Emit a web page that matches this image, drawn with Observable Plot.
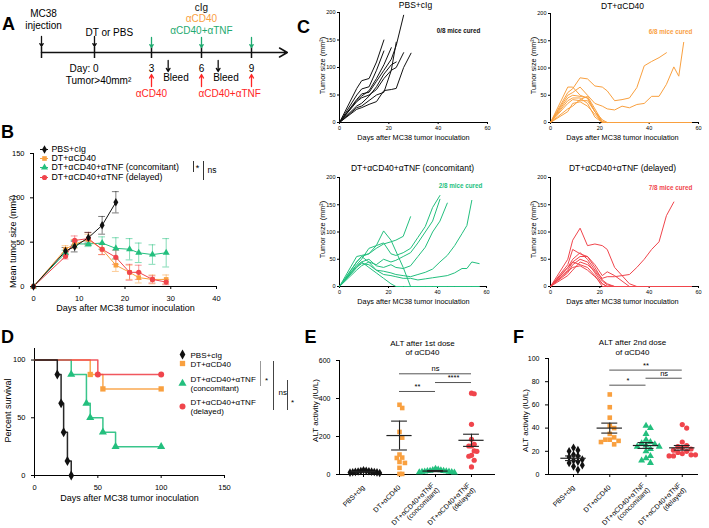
<!DOCTYPE html>
<html><head><meta charset="utf-8">
<script src="https://cdn.jsdelivr.net/npm/d3@7"></script>
<script src="https://cdn.jsdelivr.net/npm/@observablehq/plot@0.6"></script>
<style>
body{margin:0;background:#fff;}
#wrap{position:relative;width:709px;height:528px;overflow:hidden;background:#fff;}
#wrap svg{position:absolute;left:0;top:0;}
</style></head><body><div id="wrap"></div>
<script>
// ---------------- DATA ----------------
const groups = ["PBS+cIg","DT+αCD40","DT+αCD40+αTNF (concomitant)","DT+αCD40+αTNF (delayed)"];
const colors = ["#111111","#F9A03F","#23BF7E","#F0454C"];
const symbols = ["diamond","square","triangle","circle"];

// Panel A timeline
const aEvents = [{day:-3, text:"MC38\ninjection"}, {day:0, text:"DT or PBS"}];
const aDoseDays = [3,6,9];
const aBleedDays = [4,7];
const aTopText = ["cIg","αCD40","αCD40+αTNF"];
const aTopColors = ["#111111","#F9A03F","#1FAA70"];
const aBottomText = [{day:3, text:"αCD40"},{day:6, text:"αCD40+αTNF"}];

// Panel B mean tumor size
const bDays = [0,7,9,12,15,18,21,23,26,29];
const bMeanPBS  = [0,40,45,55,69,95];
const bSemPBS   = [0,4,6,6,10,12];
const bMeanCD40 = [0,42,48,53,42,24,16,10,8,8];
const bSemCD40  = [0,4,5,6,6,7,8,6,5,5];
const bMeanConc = [0,38,48,48,49,43,42,38,36,38];
const bSemConc  = [0,3,4,3,7,12,12,11,11,16];
const bMeanDel  = [0,34,52,54,42,33,16,16,8,5];
const bSemDel   = [0,3,5,7,6,8,9,8,4,3];

// Panel C individual mice
const cDays = [0,7,9,12,15,18,21,23,26,29,32,35,38,41,44,47,50,52,54,57];
const cPBS = [
  [0,42,52,55,75,95,115,140,195],
  [0,62,76,80,110,150],
  [0,50,61,65,95,130],
  [0,40,48,58,80,105,136],
  [0,38,45,50,60,80,95,146],
  [0,30,35,48,65,88,105,110],
  [0,27,30,40,50,55,95,100,127],
  [0,24,27,33,38,58,60,62,100,126]
];
const cCD40 = [
  [0,55,62,82,80,67,65,58,40,42,45,64,104,112,119,128],
  [0,50,55,65,50,35,30,25,23,30,27,33,35,48,48,70,102,85,147],
  [0,65,65,50,45,20,0,0,0,0,0,0,0,0,0,0,0,0,0,0],
  [0,45,50,48,45,20,0,0,0,0,0,0,0,0,0,0,0,0,0,0],
  [0,40,45,45,35,10,0,0,0,0,0,0,0,0,0,0,0,0,0,0],
  [0,35,42,40,40,20,5,0,0,0,0,0,0,0,0,0,0,0,0,0],
  [0,25,30,42,48,25,2,0,0,0,0,0,0,0,0,0,0,0,0,0],
  [0,20,35,38,30,15,0,0,0,0,0,0,0,0,0,0,0,0,0,0]
];
const cConc = [
  [0,55,57,60,70,78,82,85,92,128],
  [0,40,50,70,75,80,60,57,62,70,90,110,145,167],
  [0,45,55,45,40,50,45,48,55,62,80,100,120,160],
  [0,35,45,50,38,35,40,35,33,38,55,72,100,120,153],
  [0,30,38,45,30,28,25,22,20,18,22,26,32,45,57,75,97,112,158],
  [0,45,55,60,75,102,85,65,35,0,0,0,0,0,0,0,0,0,0,0],
  [0,38,45,35,25,15,5,0,0,0,0,0,0,0,0,0,0,0,0,0],
  [0,35,42,40,30,22,20,18,15,15,12,14,16,18,20,25,33,33,45,42]
];
const cDel = [
  [0,50,85,107,75,78,75,68,35,20,5,0,0,0,0,0,0,0,0,0],
  [0,40,68,60,55,40,20,27,20,10,0,0,0,0,0,0,0,0,0,0],
  [0,35,50,62,50,30,15,18,18,20,22,35,50,68,82,130,155],
  [0,30,45,55,55,35,12,5,0,0,0,0,0,0,0,0,0,0,0,0],
  [0,25,40,50,45,25,5,0,0,0,0,0,0,0,0,0,0,0,0,0],
  [0,35,45,40,35,20,0,0,0,0,0,0,0,0,0,0,0,0,0,0],
  [0,28,35,38,30,18,5,0,0,0,0,0,0,0,0,0,0,0,0,0],
  [0,20,30,45,40,28,10,3,0,0,0,0,0,0,0,0,0,0,0,0]
];
const cCured = ["0/8 mice cured","6/8 mice cured","2/8 mice cured","7/8 mice cured"];

// Panel D survival
const dTimes = [[0,18,21,23,26,29],[0,44,54,100],[0,29,41,44,54,64,100],[0,50,100]];
const dSurv  = [[100,87.5,62.5,37.5,12.5,0],[100,87.5,75,75],[100,87.5,62.5,50,37.5,25,25],[100,87.5,87.5]];

// Panel E ALT after 1st dose
const ePBS  = [22,20,18,17,16,15,14,13,12,11,10,8];
const eCD40 = [367,350,224,194,105,89,87,66,61,35,3,3];
const eConc = [30,26,24,22,20,19,18,17,16,15,14,13,12,10];
const eDel  = [428,425,264,185,159,150,150,124,122,101,96,75,40];
const eMean = [15,205,18,180];
const eSem  = [2,76,3,32];
const eSig  = [{from:1,to:3,label:"ns",level:530},{from:2,to:3,label:"****",level:484},{from:1,to:2,label:"**",level:437}];

// Panel F ALT after 2nd dose
const fPBS  = [23,21,20,17,16,15,13,12,11,10,8,7,4];
const fCD40 = [69,58,49,42,40,35,32,30,30,29,28,26];
const fConc = [42,40,35,30,28,27,26,25,24,24,22,20,16,14,12,10];
const fDel  = [43,40,28,25,24,23,22,21,20,19,18,17,17,16,16];
const fMean = [14,40,25,23];
const fSem  = [2,4.3,2.5,2];
const fSig  = [{from:1,to:3,label:"**",level:90},{from:2,to:3,label:"ns",level:83},{from:1,to:2,label:"*",level:77}];

// ---------------- DRAWING ----------------
const W = 709, H = 528;
const FONT = '"Liberation Sans", Arial, Helvetica, sans-serif';
const wrap = document.getElementById("wrap");
const add = p => wrap.appendChild(p);
const frame = (l, r, t, b) => ({width: W, height: H, marginLeft: l, marginRight: W - r, marginTop: t, marginBottom: H - b});
const base = fs => ({style: {fontFamily: FONT, fontSize: fs + "px", background: "transparent", overflow: "visible"}});
const wrapName = s => s.replace(" (", "\n(");

// Panel A (piecewise day scale of the schematic)
const aX = d3.scaleLinear().domain([-3, 0, 3, 6, 9]).range([41, 94, 151, 201, 251]);
const redA = "#FF2626", greenA = "#1FAA70";
add(Plot.plot({
  width: W, height: H, margin: 0, ...base(10),
  x: {type: "identity", axis: null},
  y: {type: "identity", axis: null},
  marks: [
    Plot.arrow([{from: -3, to: 11.15}], {x1: d => aX(d.from), x2: d => aX(d.to), y1: 52, y2: 52, stroke: "#111", strokeWidth: 1.5, headLength: 9}),
    Plot.ruleX([...aEvents.map(d => d.day), ...aDoseDays], {x: d => aX(d), y1: 47, y2: 58, stroke: "#111", strokeWidth: 1.5}),
    Plot.arrow(aEvents, {x: d => aX(d.day), y1: 36, y2: 46, stroke: "#111", strokeWidth: 1.3, headLength: 5}),
    Plot.arrow(aDoseDays, {x: d => aX(d), y1: 37, y2: 47, stroke: greenA, strokeWidth: 1.3, headLength: 5}),
    Plot.arrow(aDoseDays, {x: d => aX(d), y1: 86, y2: 74, stroke: redA, strokeWidth: 1.3, headLength: 5}),
    Plot.arrow(aBleedDays, {x: d => aX(d), y1: 60, y2: 71, stroke: "#111", strokeWidth: 1.3, headLength: 5}),
    Plot.text(aEvents.filter(d => d.day < 0), {x: d => aX(d.day), y: 19, text: "text", dx: 2, lineHeight: 1.2}),
    Plot.text(aEvents.filter(d => d.day >= 0), {x: d => aX(d.day), y: 32, text: "text", textAnchor: "start", dx: -9}),
    Plot.text(aDoseDays, {x: d => aX(d), y: 68, text: d => String(d)}),
    Plot.text([0], {x: d => aX(d), y: 68, text: d => "Day: " + d, textAnchor: "end", dx: 4}),
    Plot.text([40], {x: () => aX(0), y: 80, text: d => "Tumor>" + d + "mm²", dx: 4}),
    Plot.text(aBleedDays, {x: d => aX(d), y: 77, text: () => "Bleed", textAnchor: "start", dx: -5}),
    Plot.text(aTopText, {x: () => aX(6), y: (d, i) => 7 + i * 11.5, text: d => d, fill: (d, i) => aTopColors[i]}),
    Plot.text(aBottomText.slice(0, 1), {x: d => aX(d.day), y: 93, text: "text", fill: redA}),
    Plot.text(aBottomText.slice(1), {x: d => aX(d.day), y: 93, text: "text", fill: redA, textAnchor: "start", dx: -3})
  ]
}));

// Panel B
const bMeans = [bMeanPBS, bMeanCD40, bMeanConc, bMeanDel];
const bSems = [bSemPBS, bSemCD40, bSemConc, bSemDel];
const bRows = [];
[2, 1, 3, 0].forEach(g => bMeans[g].forEach((m, i) => bRows.push({g, day: bDays[i], mean: m, sem: bSems[g][i]})));
const bErr = bRows.filter(d => d.sem > 0);
add(Plot.plot({
  ...frame(33, 216, 153, 286), ...base(7.5),
  x: {domain: [0, 40], ticks: [0, 10, 20, 30, 40], tickSize: 3, line: true, label: null},
  y: {domain: [0, 150], ticks: [0, 50, 100, 150], tickSize: 3, line: true, label: null},
  marks: [
    Plot.ruleX(bErr, {x: "day", y1: d => d.mean - d.sem, y2: d => d.mean + d.sem, stroke: d => colors[d.g], strokeOpacity: 0.55}),
    Plot.ruleY(bErr, {y: d => d.mean + d.sem, x1: d => d.day - 0.75, x2: d => d.day + 0.75, stroke: d => colors[d.g], strokeOpacity: 0.55}),
    Plot.ruleY(bErr, {y: d => d.mean - d.sem, x1: d => d.day - 0.75, x2: d => d.day + 0.75, stroke: d => colors[d.g], strokeOpacity: 0.55}),
    Plot.line(bRows, {x: "day", y: "mean", z: "g", stroke: d => colors[d.g], strokeWidth: 1}),
    Plot.dot(bRows, {x: "day", y: "mean", symbol: d => symbols[d.g], fill: d => colors[d.g], r: 2.6})
  ]
}));

// Panel C
const cGroups = [cPBS, cCD40, cConc, cDel];
const cFrames = [[339, 487, 12, 122], [550, 698, 13, 122], [339, 486, 177, 286], [550, 698, 177, 286]];
cGroups.forEach((mice, g) => {
  const rows = [];
  mice.forEach((vals, m) => vals.forEach((v, i) => rows.push({m, day: cDays[i], v})));
  add(Plot.plot({
    ...frame(...cFrames[g]), ...base(5.5),
    x: {domain: [0, 60], ticks: [0, 20, 40, 60], tickSize: 2, tickPadding: 2, line: true, label: null},
    y: {domain: [0, 200], ticks: [0, 50, 100, 150, 200], tickSize: 2, tickPadding: 2, line: true, label: null},
    marks: [Plot.line(rows, {x: "day", y: "v", z: "m", stroke: colors[g], strokeWidth: 1})]
  }));
});

// Panel D
const dRows = [];
[1, 2, 3, 0].forEach(g => dTimes[g].forEach((t, i) => dRows.push({g, t, s: dSurv[g][i]})));
add(Plot.plot({
  ...frame(34, 224, 348, 475), ...base(7.5),
  x: {domain: [0, 150], ticks: [0, 50, 100, 150], tickSize: 3, line: true, label: null},
  y: {domain: [0, 110], ticks: [0, 50, 100], tickSize: 3, line: true, label: null},
  marks: [
    Plot.line(dRows, {x: "t", y: "s", z: "g", stroke: d => colors[d.g], strokeWidth: 1.5, curve: "step-after", strokeOpacity: 0.9}),
    Plot.dot(dRows.filter(d => d.t > 0), {x: "t", y: "s", symbol: d => symbols[d.g], fill: d => colors[d.g], r: 3})
  ]
}));

// Panels E & F: scatter with a simple beeswarm layout
function swarm(values, yppu, xppu, dX, dY) {
  const placed = [];
  return values.map(v => {
    const py = v * yppu;
    for (let k = 0; k < 80; k++) {
      const off = (k % 2 ? 1 : -1) * Math.ceil(k / 2) * dX;
      if (placed.every(p => ((p[0] - off) / dX) ** 2 + ((p[1] - py) / dY) ** 2 >= 0.95)) { placed.push([off, py]); return off / xppu; }
    }
    return 0;
  });
}
function scatterPanel(fr, xdom, ydom, yticks, sets, means, sems, sig, dX, dY) {
  const yppu = (fr[3] - fr[2]) / (ydom[1] - ydom[0]);
  const xppu = (fr[1] - fr[0]) / (xdom[1] - xdom[0]);
  const pts = [];
  sets.forEach((vals, g) => {
    const offs = swarm(vals, yppu, xppu, dX, dY);
    vals.forEach((v, i) => pts.push({g, v, off: offs[i]}));
  });
  const stats = means.map((m, g) => ({g, mean: m, sem: sems[g]}));
  add(Plot.plot({
    ...frame(...fr), ...base(7),
    x: {domain: xdom, ticks: [0, 1, 2, 3], tickFormat: i => wrapName(groups[i]), tickRotate: -45, tickSize: 3, line: true, label: null},
    y: {domain: ydom, ticks: yticks, tickSize: 3, line: true, label: null},
    marks: [
      Plot.dot(pts, {x: d => d.g + d.off, y: "v", symbol: d => symbols[d.g], fill: d => colors[d.g], r: 2.6}),
      Plot.ruleY(stats, {y: "mean", x1: d => d.g - 0.35, x2: d => d.g + 0.35, stroke: "#222", strokeWidth: 1.2}),
      Plot.ruleX(stats, {x: "g", y1: d => d.mean - d.sem, y2: d => d.mean + d.sem, stroke: "#222", strokeWidth: 1.1}),
      Plot.ruleY(stats, {y: d => d.mean + d.sem, x1: d => d.g - 0.22, x2: d => d.g + 0.22, stroke: "#222", strokeWidth: 1.1}),
      Plot.ruleY(stats, {y: d => d.mean - d.sem, x1: d => d.g - 0.22, x2: d => d.g + 0.22, stroke: "#222", strokeWidth: 1.1}),
      Plot.ruleY(sig, {y: "level", x1: "from", x2: "to", stroke: "#555", strokeWidth: 1}),
      Plot.text(sig, {x: d => (d.from + d.to) / 2, y: "level", text: "label", dy: -5, fontSize: 7.5})
    ]
  }));
}
scatterPanel([339, 494, 360, 474], [-0.667, 3.639], [0, 600], [0, 200, 400, 600],
  [ePBS, eCD40, eConc, eDel], eMean, eSem, eSig, 2.7, 6);
scatterPanel([548, 697, 358, 474], [-0.69, 3.42], [0, 100], [0, 20, 40, 60, 80, 100],
  [fPBS, fCD40, fConc, fDel], fMean, fSem, fSig, 4.4, 5);

// Overlay annotations (layout in pixels)
const txt = (items, opts) => Plot.text(items, {x: d => d[0], y: d => d[1], text: d => d[2], ...opts});
const xLab = "Days after MC38 tumor inoculation";
const cLab = "Tumor size (mm²)";
const bLegY = [149, 158, 167, 177];
const dLegY = [354, 363, 383, 406];
add(Plot.plot({
  width: W, height: H, margin: 0, ...base(9),
  x: {type: "identity", axis: null},
  y: {type: "identity", axis: null},
  marks: [
    txt([[8, 24, "A"], [7, 132, "B"], [303, 27, "C"], [7, 337, "D"], [310, 337, "E"], [518, 337, "F"]], {fontSize: 18, fontWeight: "bold"}),
    txt([[125, 308, xLab], [129, 498, xLab]], {fontSize: 9}),
    txt([[13, 241, "Mean tumor size (mm²)"], [8, 410, "Percent survival"]], {fontSize: 9, rotate: -90}),
    txt([[413, 137, xLab], [622, 137, xLab], [413, 301, xLab], [622, 301, xLab]], {fontSize: 7.3}),
    txt([[322, 65, cLab], [533, 65, cLab], [322, 229, cLab], [533, 229, cLab]], {fontSize: 7.3, rotate: -90}),
    txt([[415, 5, groups[0]], [622, 6, groups[1]], [412, 168, groups[2]], [622, 168, groups[3]]], {fontSize: 8.5}),
    Plot.text(cCured, {x: (d, i) => [458, 670, 460, 670][i], y: (d, i) => [30, 31, 185, 187][i], text: d => d, fill: (d, i) => colors[i], fontWeight: "bold", fontSize: 6.3}),
    txt([[422, 343, "ALT after 1st dose"], [422, 352, "of αCD40"], [632, 342, "ALT after 2nd dose"], [632, 352, "of αCD40"]], {fontSize: 8}),
    txt([[315, 410, "ALT activity (IU/L)"], [525, 420, "ALT activity (IU/L)"]], {fontSize: 8, rotate: -90}),
    // Legend B
    Plot.ruleY(groups, {y: (d, i) => bLegY[i], x1: 40, x2: 48, stroke: (d, i) => colors[i], strokeWidth: 1}),
    Plot.dot(groups, {x: 44, y: (d, i) => bLegY[i], symbol: (d, i) => symbols[i], fill: (d, i) => colors[i], r: 2.6}),
    Plot.text(groups, {x: 51, y: (d, i) => bLegY[i], text: d => d, textAnchor: "start", fontSize: 8.8}),
    Plot.ruleX([193, 203], {x: d => d, y1: 161, y2: (d, i) => [172, 180][i], stroke: "#333"}),
    txt([[197, 168, "*"]], {fontSize: 9}),
    txt([[207, 170, "ns"]], {fontSize: 8.5, textAnchor: "start"}),
    // Legend D
    Plot.dot(groups, {x: 182, y: (d, i) => dLegY[i], symbol: (d, i) => symbols[i], fill: (d, i) => colors[i], r: 3}),
    Plot.text(groups, {x: 190, y: (d, i) => dLegY[i], text: d => wrapName(d), textAnchor: "start", fontSize: 8, lineHeight: 1.2}),
    Plot.ruleX([260, 273, 287], {x: d => d, y1: (d, i) => [361, 361, 380][i], y2: (d, i) => [386, 410, 410][i], stroke: (d, i) => ["#999", "#444", "#444"][i]}),
    txt([[266, 380, "*"], [292, 402, "*"]], {fontSize: 8}),
    txt([[278, 392, "ns"]], {fontSize: 8, textAnchor: "start"})
  ]
}));
</script></body></html>
